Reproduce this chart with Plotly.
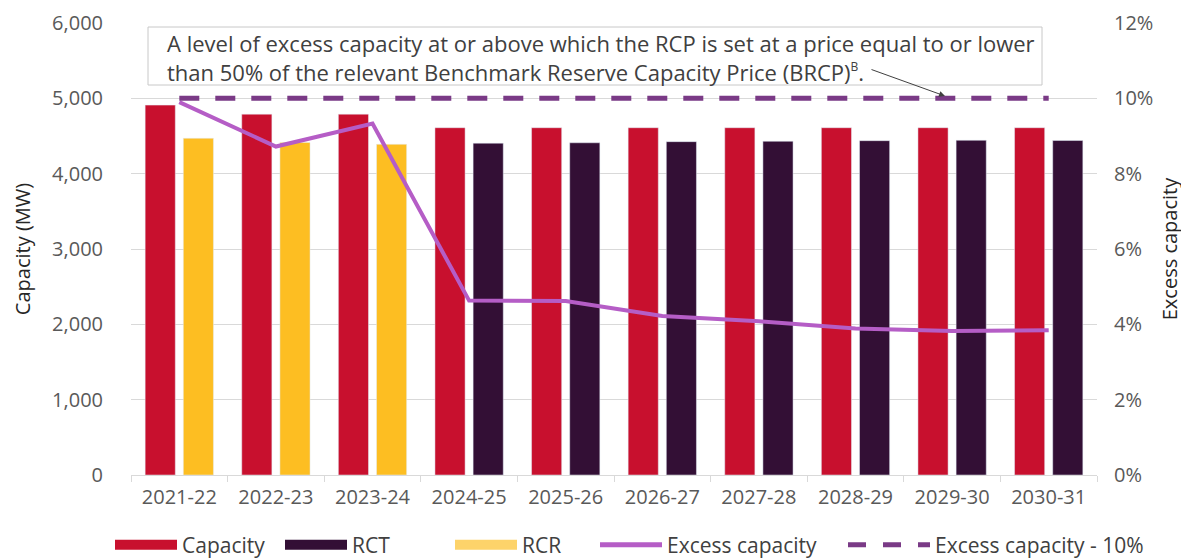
import plotly.graph_objects as go

years = ["2021-22", "2022-23", "2023-24", "2024-25", "2025-26",
         "2026-27", "2027-28", "2028-29", "2029-30", "2030-31"]
capacity = [4910, 4790, 4790, 4610, 4610, 4610, 4610, 4610, 4610, 4610]
rct = [None, None, None, 4405, 4410, 4425, 4430, 4438, 4443, 4440]
rcr = [4470, 4415, 4390, None, None, None, None, None, None, None]
excess = [0.099, 0.0872, 0.0933, 0.0463, 0.0462, 0.0422, 0.0408, 0.0389, 0.0382, 0.0384]
excess_10 = [0.10] * len(years)

FONT = "Open Sans"
C_CAP, C_RCT, C_RCR = "#C8102E", "#330F35", "#FDBE22"
C_EXC, C_EXC10 = "#B55DC6", "#7A3A86"

# page is drawn with an 8px body offset; plot area in page px: x 131..1097, y 23..475
PL, PW, PB, PH = 131, 966, 475, 452


def px(x):
    return (x - PL) / PW


def py(y):
    return (PB - y) / PH


fig = go.Figure()

fig.add_trace(go.Bar(name="Capacity", x=years, y=capacity, marker_color=C_CAP,
                     offsetgroup="a", yaxis="y", showlegend=False))
fig.add_trace(go.Bar(name="RCT", x=years, y=rct, marker_color=C_RCT,
                     offsetgroup="b", yaxis="y", showlegend=False))
fig.add_trace(go.Bar(name="RCR", x=years, y=rcr, marker_color=C_RCR,
                     offsetgroup="b", yaxis="y", showlegend=False))
fig.add_trace(go.Scatter(name="Excess capacity", x=years, y=excess, mode="lines",
                         line=dict(color=C_EXC, width=4), yaxis="y2", showlegend=False))
fig.add_trace(go.Scatter(name="Excess capacity - 10%", x=years, y=excess_10, mode="lines",
                         line=dict(color=C_EXC10, width=5, dash="20px,16px"), yaxis="y2",
                         showlegend=False))

# legend entries (wide swatches like the original), each in its own legend
legend_items = [("Capacity", C_CAP, 16, "solid", "legend", 115, 62),
                ("RCT", C_RCT, 16, "solid", "legend2", 285, 62),
                ("RCR", "#FDD36A", 16, "solid", "legend3", 455, 62),
                ("Excess capacity", C_EXC, 5, "solid", "legend4", 600, 62),
                ("Excess capacity - 10%", C_EXC10, 5, "18px,17px", "legend5", 848, 82)]
legend_layout = {}
for name, color, width, dash, lg, xs, iw in legend_items:
    fig.add_trace(go.Scatter(name=name, x=[None], y=[None], mode="lines",
                             line=dict(color=color, width=width, dash=dash),
                             yaxis="y", hoverinfo="skip", legend=lg))
    legend_layout[lg] = dict(orientation="h", x=px(xs - 5), xanchor="left",
                             y=py(545), yanchor="middle",
                             font=dict(family=FONT, size=21, color="#404040"),
                             itemwidth=iw, bgcolor="rgba(0,0,0,0)")

fig.update_layout(
    width=1181, height=550,
    margin=dict(l=123, r=92, t=15, b=83, autoexpand=False),
    paper_bgcolor="white", plot_bgcolor="white",
    font=dict(family=FONT, size=20, color="#595959"),
    barmode="group", bargap=0.21, bargroupgap=0.21,
    xaxis=dict(type="category", showline=True, linecolor="#d9d9d9", linewidth=1,
               ticks="outside", tickson="boundaries", ticklen=6, tickcolor="#d9d9d9",
               ticklabelstandoff=4,
               tickfont=dict(size=20, color="#595959"), showgrid=False),
    yaxis=dict(range=[0, 6000], dtick=1000, tickformat=",", showgrid=True,
               gridcolor="#d9d9d9", gridwidth=1, zeroline=False,
               ticklabelstandoff=27,
               tickfont=dict(size=20, color="#595959"),
               title=dict(text="Capacity (MW)", font=dict(size=20, color="#262626"), standoff=16)),
    yaxis2=dict(range=[0, 0.12], dtick=0.02, tickformat=".0%", overlaying="y", side="right",
                showgrid=False, zeroline=False, ticklabelstandoff=16,
                tickfont=dict(size=20, color="#595959"),
                title=dict(text="Excess capacity", font=dict(size=20, color="#262626"), standoff=10)),
    showlegend=True,
    **legend_layout,
)

# annotation box
fig.add_shape(type="rect", xref="paper", yref="paper",
              x0=px(148), x1=px(1042), y0=py(85), y1=py(27),
              line=dict(color="#c8c8c8", width=1), fillcolor="white", layer="above")
fig.add_annotation(
    xref="paper", yref="paper", x=px(165), y=py(57),
    xanchor="left", yanchor="middle",
    text="A level of excess capacity at or above which the RCP is set at a price equal to or lower<br>"
         "than 50% of the relevant Benchmark Reserve Capacity Price (BRCP)"
         "<sup><span style='font-size:12px'>B</span></sup>.",
    showarrow=False, align="left",
    font=dict(family=FONT, size=22, color="#404040"),
)
fig.add_annotation(
    xref="paper", yref="paper", x=px(945), y=py(96), text="",
    showarrow=True, ax=-75, ay=-27, arrowhead=2, arrowsize=1.2, arrowwidth=1,
    arrowcolor="#404040",
)

fig.write_html("out.html")
